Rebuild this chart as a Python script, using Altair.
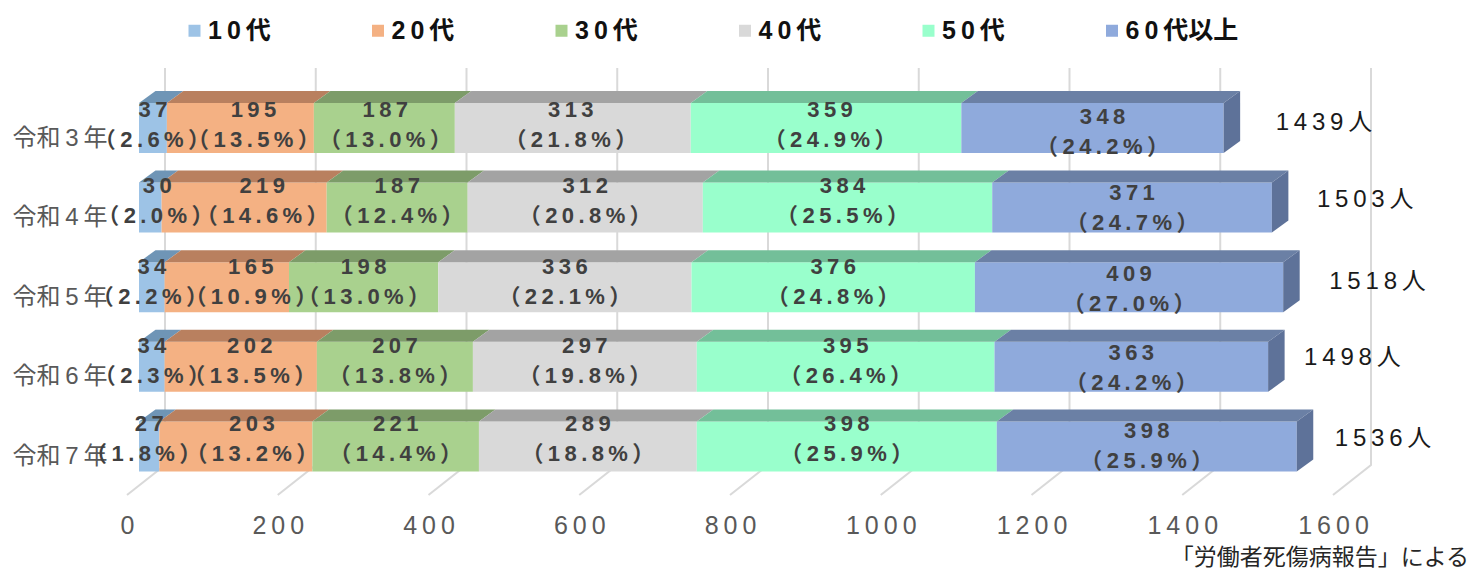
import altair as alt
import pandas as pd

YEARS = ["令和3年", "令和4年", "令和5年", "令和6年", "令和7年"]
AGES = ["10代", "20代", "30代", "40代", "50代", "60代以上"]
COUNTS = [
    [37, 195, 187, 313, 359, 348],
    [30, 219, 187, 312, 384, 371],
    [34, 165, 198, 336, 376, 409],
    [34, 202, 207, 297, 395, 363],
    [27, 203, 221, 289, 398, 398],
]
PCTS = [
    ["2.6", "13.5", "13.0", "21.8", "24.9", "24.2"],
    ["2.0", "14.6", "12.4", "20.8", "25.5", "24.7"],
    ["2.2", "10.9", "13.0", "22.1", "24.8", "27.0"],
    ["2.3", "13.5", "13.8", "19.8", "26.4", "24.2"],
    ["1.8", "13.2", "14.4", "18.8", "25.9", "25.9"],
]
TOTALS = [1439, 1503, 1518, 1498, 1536]
TICKS = [0, 200, 400, 600, 800, 1000, 1200, 1400, 1600]

FRONT = ["#9DC3E6", "#F4B183", "#A9D18E", "#D9D9D9", "#99FFCC", "#8FAADC"]
TOP = ["#6F95B6", "#B9805F", "#7D9C69", "#A3A3A3", "#73BF99", "#6B80A5"]
SIDE = "#5E7299"
FONT = "Liberation Sans, Noto Sans CJK JP"
THIN = "\u2009"

# projection of the 3-D look, in pixels
PX_PER_UNIT = 0.75375
PX_PER_ROW = 79.6
PLOT_W, PLOT_H = 1342, 427
ROW0_Y = 60  # first row centre below plot top
U = 1 / PX_PER_UNIT
R = 1 / PX_PER_ROW
SHIFT = 12 * U
DX = 16.5 * U
DY = 12 * R
HALF = 25 * R

NUDGE_X = [[0, 13, 1, -2, 4, 10], [7, 18, 0, 0, -5, 0], [0, 24, 0, 0, 0, 0],
           [0, 9, 0, 0, 0, 0], [0, 16, 0, 0, 0, 0]]
FIRST_PCT_X = [-1, 5, -2, 0, -6]
NUDGE_Y = [2, -2, 0, -1, -2]
TOTAL_X = [52, 45, 46, 36, 38]
TOTAL_Y = [-5, -8, -5, -9, -7]


def spaced(s):
    return THIN.join(s)


front, top, side, labels, totals = [], [], [], [], []
for r, year in enumerate(YEARS):
    acc = 0
    for a, age in enumerate(AGES):
        c = COUNTS[r][a]
        x0, x1 = acc + SHIFT, acc + c + SHIFT
        acc += c
        key = f"{r}-{a}"
        front.append(dict(age=age, x0=x0, x1=x1, y0=r - HALF, y1=r + HALF))
        top.append(dict(key=key, fill=TOP[a], xa=x0, xb=x1, y=r - HALF))
        top.append(dict(key=key, fill=TOP[a], xa=x0 + DX, xb=x1 + DX, y=r - HALF - DY))
        cx = (x0 + x1) / 2 + NUDGE_X[r][a] * U
        px = cx + (FIRST_PCT_X[r] - NUDGE_X[r][a]) * U if a == 0 else cx
        last = 7 if a == 5 else 0
        labels.append(dict(x=cx, y=r + (-20 + NUDGE_Y[r] + last) * R, t=spaced(str(c))))
        labels.append(dict(x=px, y=r + (10 + NUDGE_Y[r] + last) * R,
                           t="（" + THIN + spaced(PCTS[r][a] + "%") + THIN + "）"))
    xe = acc + SHIFT
    side.append(dict(key=r, x=xe, y0=r - HALF, y1=r + HALF))
    side.append(dict(key=r, x=xe + DX, y0=r - HALF - DY, y1=r + HALF - DY))
    totals.append(dict(x=xe + TOTAL_X[r] * U, y=r + TOTAL_Y[r] * R, t=spaced(str(TOTALS[r])) + THIN + "人"))

y_bottom = (PLOT_H - ROW0_Y) * R
y_top = -ROW0_Y * R
grid = []
for t in TICKS:
    grid.append(dict(t=t, o=0, x=t, y=y_bottom))
    grid.append(dict(t=t, o=1, x=t + 38 * U, y=y_bottom - 30 * R))
    grid.append(dict(t=t, o=2, x=t + 38 * U, y=y_top))

xs = alt.Scale(domain=[0, PLOT_W * U], nice=False, zero=False)
ys = alt.Scale(domain=[y_bottom, y_top], nice=False, zero=False)
NOX = alt.X("x:Q", scale=xs, title=None)
NOY = alt.Y("y:Q", scale=ys, title=None)

year_expr = "[" + ",".join(f"'{y[:2]}{THIN}{y[2]}{THIN}{y[3]}'" for y in YEARS) + "][datum.value]"

grid_layer = alt.Chart(pd.DataFrame(grid)).mark_line(color="#D9D9D9", strokeWidth=2).encode(
    x=alt.X("x:Q", scale=xs, axis=alt.Axis(
        values=TICKS, title=None, grid=False, domain=False, ticks=False, format="d",
        labelFont=FONT, labelFontSize=25, labelColor="#595959", labelPadding=18,
        labelExpr=f"join(split(datum.label,''),'{THIN}')", labelOverlap=False,
        labelFlush=False)),
    y=alt.Y("y:Q", scale=ys, axis=alt.Axis(
        values=[0, 1, 2, 3, 4], title=None, grid=False, domain=False, ticks=False,
        labelFont=FONT, labelFontSize=24, labelColor="#595959", labelPadding=20,
        labelOffset=10, labelExpr=year_expr)),
    detail="t:N",
    order="o:Q",
)

front_layer = alt.Chart(pd.DataFrame(front)).mark_rect().encode(
    x=alt.X("x0:Q", scale=xs, title=None),
    x2="x1:Q",
    y=alt.Y("y0:Q", scale=ys, title=None),
    y2="y1:Q",
    color=alt.Color("age:N", scale=alt.Scale(domain=AGES, range=FRONT), legend=alt.Legend(
        orient="none", legendX=55, legendY=-50, direction="horizontal", columns=6,
        title=None, symbolType="square", symbolSize=144, symbolStrokeWidth=0,
        labelFont=FONT, labelFontSize=25, labelFontWeight="bold", labelColor="#111111",
        labelOffset=1, gridAlign="all", columnPadding=44.5, padding=0,
        labelExpr=f"replace(replace(datum.label,'0','{THIN}0'),'代','{THIN}代')", labelLimit=300)),
)

top_layer = alt.Chart(pd.DataFrame(top)).mark_area(orient="horizontal").encode(
    x=alt.X("xa:Q", scale=xs, title=None, stack=None),
    x2="xb:Q",
    y=alt.Y("y:Q", scale=ys, title=None),
    fill=alt.Fill("fill:N", scale=None),
    detail="key:N",
)

side_layer = alt.Chart(pd.DataFrame(side)).mark_area(orient="vertical", color=SIDE).encode(
    x=alt.X("x:Q", scale=xs, title=None),
    y=alt.Y("y0:Q", scale=ys, title=None, stack=None),
    y2="y1:Q",
    detail="key:N",
)

label_layer = alt.Chart(pd.DataFrame(labels)).mark_text(
    font=FONT, fontSize=22, fontWeight="bold", color="#404040", baseline="middle", align="center"
).encode(x=NOX, y=NOY, text="t:N")

total_layer = alt.Chart(pd.DataFrame(totals)).mark_text(
    font=FONT, fontSize=24, color="#1A1A1A", baseline="middle", align="left"
).encode(x=NOX, y=NOY, text="t:N")

note_layer = alt.Chart(pd.DataFrame({"t": ["「労働者死傷病報告」による"]})).mark_text(
    font=FONT, fontSize=23, color="#262626", baseline="middle", align="right"
).encode(x=alt.value(1342), y=alt.value(490), text="t:N")

chart = alt.layer(
    grid_layer, front_layer, top_layer, side_layer, label_layer, total_layer, note_layer
).properties(
    width=PLOT_W, height=PLOT_H,
    autosize=alt.AutoSizeParams(type="none"),
    padding={"left": 119, "top": 60, "right": 0, "bottom": 75},
).configure_view(stroke=None)

chart.save("out.html", embed_options={"renderer": "svg", "actions": False})
